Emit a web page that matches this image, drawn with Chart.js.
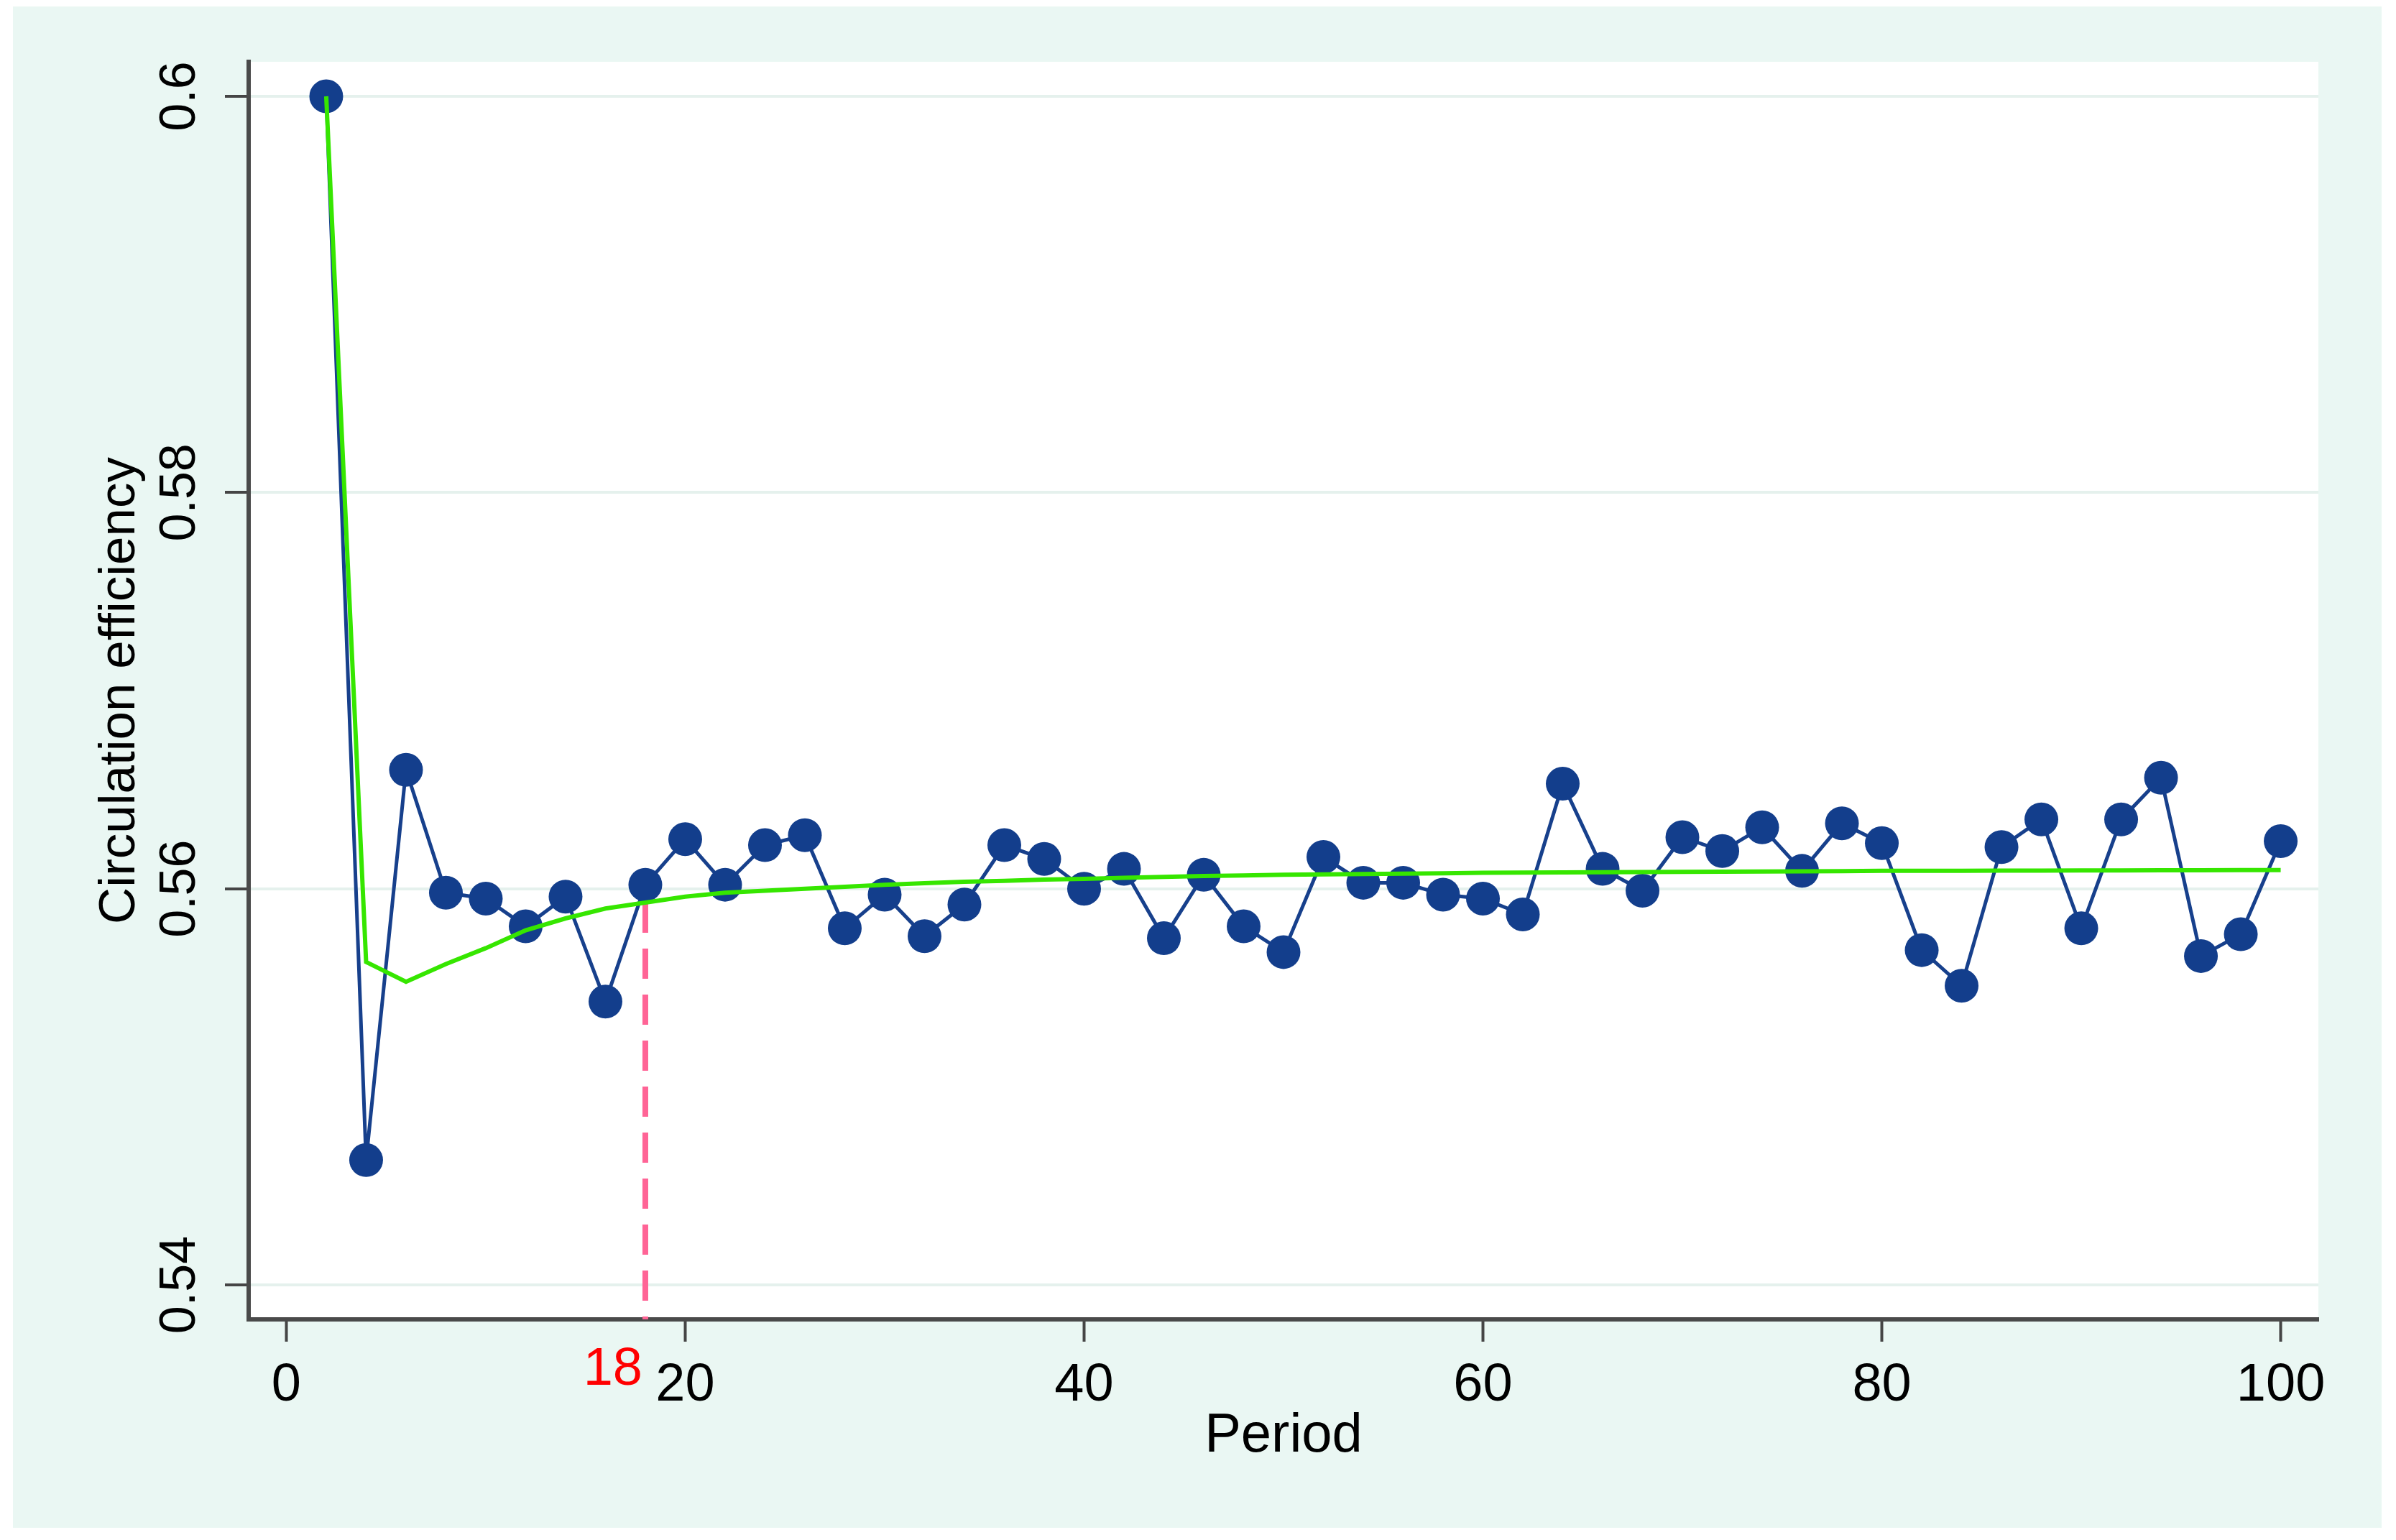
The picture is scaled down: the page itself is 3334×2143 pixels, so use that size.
<!DOCTYPE html>
<html>
<head>
<meta charset="utf-8">
<script src="https://cdn.jsdelivr.net/npm/chart.js@4.4.1/dist/chart.umd.min.js"></script>
<style>
  html, body { margin: 0; padding: 0; background: #ffffff; }
  canvas { display: block; }
</style>
</head>
<body>
<canvas id="c" width="3334" height="2143"></canvas>
<script>
// ---------------- data ----------------
const periods = [2, 4, 6, 8, 10, 12, 14, 16, 18, 20,
                 22, 24, 26, 28, 30, 32, 34, 36, 38, 40,
                 42, 44, 46, 48, 50, 52, 54, 56, 58, 60,
                 62, 64, 66, 68, 70, 72, 74, 76, 78, 80,
                 82, 84, 86, 88, 90, 92, 94, 96, 98, 100];

const efficiency = [0.6000, 0.5463, 0.5660, 0.5598, 0.5595, 0.5581, 0.5596, 0.5543, 0.5602, 0.5625,
                    0.5602, 0.5622, 0.5627, 0.5580, 0.5597, 0.5576, 0.5592, 0.5622, 0.5615, 0.5600,
                    0.5610, 0.5575, 0.5607, 0.5581, 0.5568, 0.5616, 0.5603, 0.5603, 0.5597, 0.5595,
                    0.5587, 0.5653, 0.5610, 0.5599, 0.5626, 0.5619, 0.5631, 0.5609, 0.5633, 0.5623,
                    0.5569, 0.5551, 0.5621, 0.5635, 0.5580, 0.5635, 0.5656, 0.5566, 0.5577, 0.5624];

const trend = [0.6000, 0.5563, 0.5553, 0.5562, 0.5570, 0.5579, 0.5585, 0.5590, 0.5593, 0.5596,
               0.5598, 0.5599, 0.5600, 0.5601, 0.5602, 0.56028, 0.56035, 0.5604, 0.56046, 0.5605,
               0.56055, 0.5606, 0.56064, 0.56067, 0.5607, 0.56072, 0.56074, 0.56076, 0.56078, 0.5608,
               0.56081, 0.56082, 0.56083, 0.56084, 0.56085, 0.56086, 0.56087, 0.56088, 0.56089, 0.5609,
               0.5609, 0.5609, 0.56091, 0.56091, 0.56092, 0.56092, 0.56093, 0.56093, 0.56094, 0.56094];

const cutoffPeriod = 18;
const cutoffValue = 0.5593;

const xTicks = [0, 20, 40, 60, 80, 100];
const xTickLabels = ['0', '20', '40', '60', '80', '100'];
const yTicks = [0.54, 0.56, 0.58, 0.6];
const yTickLabels = ['0.54', '0.56', '0.58', '0.6'];

const xTitle = 'Period';
const yTitle = 'Circulation efficiency';

// axis ranges
const xMin = -1.89, xMax = 101.89;
const yMin = 0.538259, yMax = 0.601741;

// ---------------- chart ----------------
Chart.defaults.font.family = '"Liberation Sans", Arial, sans-serif';
Chart.defaults.color = '#000000';

const FONT = '"Liberation Sans", Arial, sans-serif';

const bgPlugin = {
  id: 'bgPlugin',
  beforeDraw(chart) {
    const { ctx, chartArea: a } = chart;
    ctx.save();
    ctx.fillStyle = '#ffffff';
    ctx.fillRect(0, 0, chart.width, chart.height);
    ctx.fillStyle = '#eaf7f3';
    ctx.fillRect(18, 9, 3296, 2117);
    ctx.fillStyle = '#ffffff';
    ctx.fillRect(a.left, a.top, a.right - a.left, a.bottom - a.top);
    ctx.restore();
  }
};

const cutoffLabelPlugin = {
  id: 'cutoffLabel',
  afterDraw(chart) {
    const { ctx } = chart;
    const xs = chart.scales.x;
    const px = xs.getPixelForValue(cutoffPeriod);
    ctx.save();
    ctx.font = '74px ' + FONT;
    ctx.fillStyle = '#ff0000';
    ctx.textAlign = 'right';
    ctx.textBaseline = 'alphabetic';
    ctx.fillText(String(cutoffPeriod), px - 4, xs.top + 91);
    ctx.restore();
  }
};

new Chart(document.getElementById('c'), {
  type: 'line',
  data: {
    datasets: [
      {
        label: 'trend',
        data: periods.map((p, i) => ({ x: p, y: trend[i] })),
        borderColor: '#36e600',
        borderWidth: 6,
        pointRadius: 0,
        fill: false,
        tension: 0,
        order: 0
      },
      {
        label: 'cutoff',
        data: [{ x: cutoffPeriod, y: cutoffValue }, { x: cutoffPeriod, y: yMin }],
        borderColor: '#ff6496',
        borderWidth: 8,
        borderDash: [42, 22],
        pointRadius: 0,
        fill: false,
        order: 1
      },
      {
        label: 'efficiency',
        data: periods.map((p, i) => ({ x: p, y: efficiency[i] })),
        borderColor: '#17408c',
        borderWidth: 5,
        pointRadius: 23.5,
        pointBackgroundColor: '#133e8c',
        pointBorderColor: '#133e8c',
        pointBorderWidth: 0,
        fill: false,
        tension: 0,
        order: 2
      }
    ]
  },
  options: {
    responsive: false,
    animation: false,
    devicePixelRatio: 1,
    layout: { padding: { left: 0, right: 108, top: 86, bottom: 0 } },
    plugins: {
      legend: { display: false },
      tooltip: { enabled: false },
      title: { display: false }
    },
    scales: {
      x: {
        type: 'linear',
        position: 'bottom',
        min: xMin,
        max: xMax,
        afterBuildTicks: (s) => { s.ticks = xTicks.map(v => ({ value: v })); },
        afterFit: (s) => { s.height = 307; },
        ticks: {
          autoSkip: false,
          maxRotation: 0,
          minRotation: 0,
          padding: 17,
          font: { size: 74, family: FONT },
          color: '#000000',
          callback: (v, i) => xTickLabels[i]
        },
        grid: {
          drawOnChartArea: false,
          drawTicks: true,
          tickLength: 31,
          tickColor: '#454545',
          tickWidth: 4
        },
        border: { display: true, color: '#4a4a4a', width: 6 },
        title: {
          display: true,
          text: xTitle,
          font: { size: 76, family: FONT },
          color: '#000000',
          padding: { top: 0, bottom: 98 }
        }
      },
      y: {
        type: 'linear',
        position: 'left',
        min: yMin,
        max: yMax,
        afterBuildTicks: (s) => { s.ticks = yTicks.map(v => ({ value: v })); },
        afterFit: (s) => { s.width = 346; },
        ticks: {
          autoSkip: false,
          minRotation: 90,
          maxRotation: 90,
          crossAlign: 'center',
          padding: -7,
          font: { size: 70, family: FONT },
          color: '#000000',
          callback: (v, i) => yTickLabels[i]
        },
        grid: {
          drawOnChartArea: true,
          color: '#e5f1ed',
          lineWidth: 4,
          drawTicks: true,
          tickLength: 33,
          tickColor: '#454545',
          tickWidth: 4
        },
        border: { display: true, color: '#4a4a4a', width: 6 },
        title: {
          display: true,
          text: yTitle,
          font: { size: 71, family: FONT },
          color: '#000000',
          padding: { top: 125, bottom: 0 }
        }
      }
    }
  },
  plugins: [bgPlugin, cutoffLabelPlugin]
});
</script>
</body>
</html>
